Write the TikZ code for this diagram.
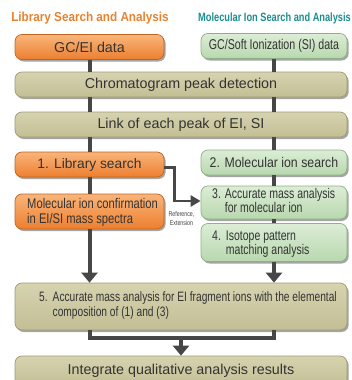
\documentclass[tikz,border=0pt]{standalone}
\usepackage{fontspec}
\setmainfont{Liberation Sans}
\newfontfamily\condA[FakeStretch=0.8]{Liberation Sans}
\newfontfamily\condB[FakeStretch=0.75]{Liberation Sans}
\newfontfamily\condC[FakeStretch=0.88]{Liberation Sans}
\newfontfamily\titlefontA[FakeStretch=0.9]{Liberation Sans}
\newfontfamily\titlefontB[FakeStretch=0.77]{Liberation Sans}
\usetikzlibrary{shadows,arrows.meta}
\definecolor{orangeT}{HTML}{F9B57A}
\definecolor{orangeB}{HTML}{EC7F30}
\definecolor{orangeD}{HTML}{C0651F}
\definecolor{greenT}{HTML}{DCEDD6}
\definecolor{greenB}{HTML}{B8D8AE}
\definecolor{greenD}{HTML}{8FB086}
\definecolor{khakiT}{HTML}{D6D3B0}
\definecolor{khakiB}{HTML}{C3BE94}
\definecolor{khakiD}{HTML}{A09B74}
\definecolor{lineC}{HTML}{474747}
\definecolor{titleO}{HTML}{E8822E}
\definecolor{titleT}{HTML}{1B8F8F}
\begin{document}
\begin{tikzpicture}[x=1pt,y=-1pt,
  basebox/.style={rounded corners=7pt, line width=0.7pt, inner sep=0pt,
    drop shadow={shadow xshift=1.6pt, shadow yshift=-2pt, opacity=0.5, fill=black!70}},
  obox/.style={basebox, draw=orangeD, top color=orangeT, bottom color=orangeB},
  gbox/.style={basebox, draw=greenD, top color=greenT, bottom color=greenB},
  kbox/.style={basebox, draw=khakiD, top color=khakiT, bottom color=khakiB},
  bigtext/.style={font=\fontsize{14.3}{16}\selectfont, text=black!80},
  condAtext/.style={font=\condA\fontsize{14}{14.5}\selectfont, text=black!80},
  condBtext/.style={font=\condB\fontsize{14}{14.5}\selectfont, text=black!80},
  conn/.style={draw=lineC, line width=4pt},
  tip/.style={-{Triangle[width=16pt,length=10pt]}},
  refconn/.style={draw=lineC, line width=2.8pt, -{Triangle[width=11pt,length=10pt]}},
]
\useasboundingbox (0,0) rectangle (352,380);
\fill[white] (0,0) rectangle (352,380);

% titles
\node[text=titleO, font=\titlefontA\bfseries\fontsize{13}{15}\selectfont] (t1) at (90,18) {Library Search and Analysis};
\node[text=titleT, font=\titlefontB\bfseries\fontsize{12}{14}\selectfont] (t2) at (274.5,18) {Molecular Ion Search and Analysis};

% boxes
\node[obox, minimum width=149, minimum height=25, bigtext] (ei) at (89.5,47) {GC/EI data};
\node[gbox, minimum width=146, minimum height=25, condBtext, font=\condB\fontsize{14.2}{15}\selectfont] (si) at (274,46) {GC/Soft Ionization (SI) data};
\node[kbox, minimum width=332, minimum height=25, bigtext] (chrom) at (181,84.5) {Chromatogram peak detection};
\node[kbox, minimum width=332, minimum height=25, bigtext] (link) at (181,124.5) {Link of each peak of EI, SI};
\node[obox, minimum width=149, minimum height=25, bigtext, font=\fontsize{13.8}{16}\selectfont] (lib) at (89.5,164.5) {1. Library search};
\node[gbox, minimum width=146, minimum height=25, font=\condC\fontsize{14}{15}\selectfont, text=black!80] (b2) at (274,162.5) {2. Molecular ion search};
\node[obox, minimum width=149, minimum height=35] (mic) at (89.5,211.5) {};
\node[gbox, minimum width=146, minimum height=33] (b3) at (274,202.5) {};
\node[gbox, minimum width=146, minimum height=38] (b4) at (274,242.5) {};
\node[kbox, minimum width=332, minimum height=47] (b5) at (181,306.5) {};
\node[kbox, minimum width=332, minimum height=30, bigtext] (integ) at (181,371) {Integrate qualitative analysis results};

% texts in multi-line boxes
\node[condAtext, anchor=west, inner sep=0pt] (mict) at (27,213) {\begin{tabular}{@{}l@{}}Molecular ion confirmation\\in EI/SI mass spectra\end{tabular}};
\node[condBtext, anchor=west, inner sep=0pt] (b3t) at (212,202.5) {\begin{tabular}{@{}l@{\hspace{4pt}}l@{}}3.&Accurate mass analysis\\&for molecular ion\end{tabular}};
\node[condBtext, anchor=west, inner sep=0pt] (b4t) at (212,244.5) {\begin{tabular}{@{}l@{\hspace{5pt}}l@{}}4.&Isotope pattern\\&matching analysis\end{tabular}};
\node[condBtext, font=\condB\fontsize{13.6}{15}\selectfont, anchor=west, inner sep=0pt] (b5t) at (39,305.5) {\begin{tabular}{@{}l@{\hspace{5pt}}l@{}}5.&Accurate mass analysis for EI fragment ions with the elemental\\&composition of (1) and (3)\end{tabular}};

% connectors left column
\draw[conn] (ei.south) -- (ei.south |- chrom.north);
\draw[conn] (ei.south |- chrom.south) -- (ei.south |- link.north);
\draw[conn] (ei.south |- link.south) -- (lib.north);
\draw[conn] (lib.south) -- (mic.north);
\draw[conn, tip] (mic.south) -- (mic.south |- b5.north);
% connectors right column
\draw[conn] (si.south) -- (si.south |- chrom.north);
\draw[conn] (si.south |- chrom.south) -- (si.south |- link.north);
\draw[conn] (si.south |- link.south) -- (b2.north);
\draw[conn] (b2.south) -- (b3.north);
\draw[conn] (b3.south) -- (b4.north);
\draw[conn, tip] (b4.south) -- (b4.south |- b5.north);
% bracket and final arrow
\draw[conn, line join=miter] (mic.south |- b5.south) -- ++(0,8) -| (b4.south |- b5.south);
\draw[conn, tip] (b5.south) ++(0,8) -- (integ.north);
% reference arrow
\draw[refconn] (lib.east) ++(0,3) -- ++(10,0) |- ([yshift=1.5pt]b3.west);
\node[font=\condB\fontsize{7}{9}\selectfont, text=black!75, align=center, inner sep=0pt] (reflab) at (181.5,218) {Reference,\\Extension};
\end{tikzpicture}
\end{document}
